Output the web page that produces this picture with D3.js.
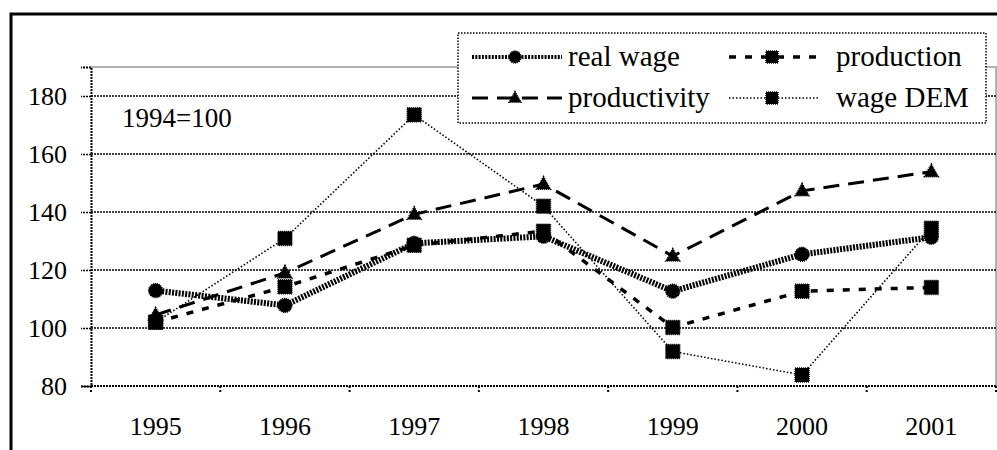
<!DOCTYPE html>
<html>
<head>
<meta charset="utf-8">
<script src="https://cdn.jsdelivr.net/npm/d3@7"></script>
<style>
  body { margin: 0; background: #fff; }
  svg text { font-family: 'Liberation Serif'; fill: #000; }
</style>
</head>
<body>
<div id="chart"></div>
<script>
// chart values (1994 = 100)
var years = ["1995", "1996", "1997", "1998", "1999", "2000", "2001"];
var realWage = [112.9, 107.8, 129.2, 131.6, 112.7, 125.4, 131.3];
var production = [102, 114.2, 128.5, 133.4, 100.2, 112.7, 114];
var productivity = [104.5, 119, 139.2, 149.6, 124.8, 147.3, 153.9];
var wageDEM = [102, 130.9, 173.5, 142, 91.9, 83.8, 134.4];
var yTicks = [80, 100, 120, 140, 160, 180];

var series = [
  {name: "real wage", values: realWage, marker: "circle", width: 6, dash: "2,1.3"},
  {name: "production", values: production, marker: "square", width: 3.5, dash: "7,9"},
  {name: "productivity", values: productivity, marker: "triangle", width: 3, dash: "16,9"},
  {name: "wage DEM", values: wageDEM, marker: "square", width: 1.6, dash: "1.5,2"}
];

var W = 997, H = 450;
var plot = {left: 91, right: 996, top: 67, bottom: 386};
var serif = "'Liberation Serif'";

var svg = d3.select("#chart").append("svg")
  .attr("width", W).attr("height", H);

// outer frame (only top and left visible)
svg.append("path")
  .attr("d", "M11,450 V14 H997")
  .attr("fill", "none").attr("stroke", "#000").attr("stroke-width", 3);

var x = d3.scaleBand().domain(years).range([plot.left, plot.right]);
var y = d3.scaleLinear().domain([80, 190]).range([plot.bottom, plot.top]);

// plot area border (grey, top and right)
svg.append("path")
  .attr("d", `M${plot.left},${plot.top} H${plot.right} V${plot.bottom}`)
  .attr("fill", "none").attr("stroke", "#999").attr("stroke-width", 1.5);

// gridlines
svg.append("g").selectAll("line").data(yTicks).enter().append("line")
  .attr("x1", plot.left).attr("x2", plot.right)
  .attr("y1", d => y(d)).attr("y2", d => y(d))
  .attr("stroke", "#000").attr("stroke-width", d => d == 80 ? 2 : 1.4)
  .attr("stroke-dasharray", "2,1");

// y axis
var yAxis = svg.append("g")
  .attr("transform", `translate(${plot.left},0)`)
  .call(d3.axisLeft(y).tickValues(yTicks).tickSize(10).tickPadding(14));
yAxis.attr("font-family", null).attr("font-size", null);
yAxis.select(".domain").attr("stroke-dasharray", "2,1").attr("stroke-width", 2);
yAxis.selectAll(".tick line").attr("stroke-dasharray", "2,1").attr("stroke-width", 1.5);
yAxis.selectAll("text")
  .style("font-family", serif).style("font-size", "26px")
  .attr("dy", "0.34em");

// x axis: ticks at category boundaries, labels at centres
var bounds = years.map(d => x(d)).concat([plot.right]);
svg.append("g").selectAll("line").data(bounds).enter().append("line")
  .attr("x1", d => d).attr("x2", d => d)
  .attr("y1", plot.bottom).attr("y2", plot.bottom + 8)
  .attr("stroke", "#000").attr("stroke-width", 2)
  .attr("stroke-dasharray", "2,2");
svg.append("g").selectAll("text").data(years).enter().append("text")
  .attr("x", d => x(d) + x.bandwidth() / 2)
  .attr("y", 435)
  .attr("text-anchor", "middle")
  .style("font-family", serif).style("font-size", "26px")
  .text(d => d);

svg.append("text").attr("x", 122).attr("y", 127)
  .style("font-family", serif).style("font-size", "27px").text("1994=100");

function cx(i) { return x(years[i]) + x.bandwidth() / 2; }

function drawMarker(g, type, px, py, s) {
  var m;
  if (type == "circle") {
    m = g.append("circle").attr("cx", px).attr("cy", py).attr("r", s * 0.5);
  } else if (type == "square") {
    m = g.append("rect").attr("x", px - s / 2).attr("y", py - s / 2)
      .attr("width", s).attr("height", s);
  } else {
    var h = s * 0.9;
    m = g.append("path")
      .attr("d", `M${px},${py - h * 0.6} L${px + s / 2},${py + h * 0.4} L${px - s / 2},${py + h * 0.4} Z`);
  }
  m.attr("fill", "#000").attr("stroke", "#000").attr("stroke-width", 1.5)
    .attr("stroke-dasharray", "1,1");
}

var line = d3.line().x((d, i) => cx(i)).y(d => y(d));

series.forEach(function(s) {
  var g = svg.append("g");
  g.append("path").datum(s.values)
    .attr("d", line)
    .attr("fill", "none").attr("stroke", "#000")
    .attr("stroke-width", s.width).attr("stroke-dasharray", s.dash);
  s.values.forEach(function(v, i) {
    drawMarker(g, s.marker, cx(i), y(v), 14);
  });
});

// legend
var leg = {x: 458, y: 33, w: 528, h: 90};
svg.append("rect")
  .attr("x", leg.x).attr("y", leg.y).attr("width", leg.w).attr("height", leg.h)
  .attr("fill", "#fff").attr("stroke", "#000").attr("stroke-width", 1.5)
  .attr("stroke-dasharray", "1.5,1.5");

var legPos = [
  {col: 472, row: 57}, {col: 729, row: 57},
  {col: 472, row: 98}, {col: 729, row: 98}
];
series.forEach(function(s, i) {
  var p = legPos[i];
  var g = svg.append("g");
  g.append("line")
    .attr("x1", p.col).attr("x2", p.col + 90)
    .attr("y1", p.row).attr("y2", p.row)
    .attr("stroke", "#000").attr("stroke-width", Math.min(s.width, 4))
    .attr("stroke-dasharray", s.dash);
  drawMarker(g, s.marker, p.col + 43, p.row, 12);
  g.append("text")
    .attr("x", p.col + (i % 2 ? 107 : 96)).attr("y", p.row + 9)
    .style("font-family", serif).style("font-size", "29px")
    .text(s.name);
});
</script>
</body>
</html>
